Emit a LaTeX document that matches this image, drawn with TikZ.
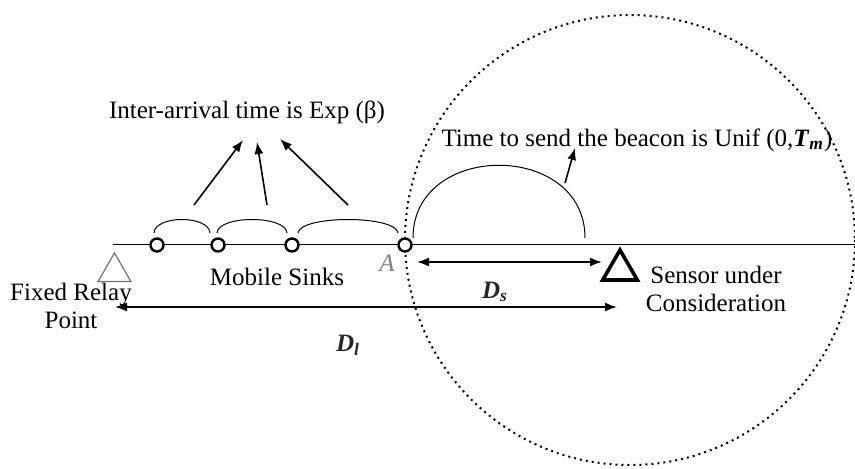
\documentclass[tikz,border=0pt]{standalone}
\usepackage{fontspec}
\setmainfont{Liberation Serif}
\usetikzlibrary{shapes.geometric,arrows.meta}
\tikzset{
  sink/.style={circle,draw,line width=1.2pt,fill=white,minimum size=6.5pt,inner sep=0pt},
  tri/.style={regular polygon,regular polygon sides=3,draw,inner sep=0pt},
  gap/.style={line width=0.5pt},
  lab/.style={font=\fontsize{12.5}{14}\selectfont,inner sep=1pt},
  tip/.style={Latex[length=6pt,width=4.5pt]},
  ptr/.style={line width=0.8pt,-{Latex[length=6pt,width=4.5pt]}},
  dim/.style={line width=0.8pt,{Latex[length=6pt,width=4.5pt]}-{Latex[length=6pt,width=4.5pt]}},
}
\newcommand{\bmath}[2]{\textbf{\textit{#1}}\textsubscript{\textbf{\textit{#2}}}}
\begin{document}
\begin{tikzpicture}[x=0.5pt,y=-0.5pt]
  \useasboundingbox (0,0) rectangle (855,468);

  % range of the sensor
  \draw[dotted,line width=1pt] (630,240) circle (225);
  \draw[line width=0.5pt] (113,244) -- (855,244);

  % relay and sensor
  \node[tri,draw=black!55,line width=0.6pt,minimum size=19pt] (relay) at (114.5,272) {};
  \node[tri,line width=1.8pt,minimum size=20pt] (sensor) at (620,270) {};

  % gaps between the sinks
  \draw[gap] (154,233) .. controls (155,215) and (209,215) .. (210,233);
  \draw[gap] (217,233) .. controls (218,215) and (286,215) .. (287,233);
  \draw[gap] (298,233) .. controls (300,215) and (396,215) .. (398,233);
  \draw[gap] (413,238) .. controls (413,141) and (585,141) .. (585,238);

  \foreach \x/\n in {157/s1,218/s2,292/s3,405/s4}
    \node[sink] (\n) at (\x,245) {};
  \node[lab,text=black!50] (labA) at (387,263) {\textit{A}};

  % texts
  \node[lab] (interarr) at (247,112) {Inter-arrival time is Exp (β)};
  \node[lab] (beacon) at (637,140) {Time to send the beacon is Unif (0,\bmath{T}{m})};
  \node[lab] (sinks) at (277,277) {Mobile Sinks};
  \node[lab,align=center] (relaytxt) at (71,306) {Fixed Relay\\Point};
  \node[lab,align=center] (sensortxt) at (716,289) {Sensor under\\Consideration};
  \node[lab,text=black!85] (ds) at (495,292) {\bmath{D}{s}};
  \node[lab,text=black!85] (dl) at (348,345) {\bmath{D}{l}};

  % arrows
  \foreach \n/\fx/\tx/\ty in {a/194/243/140,b/267/257/142,c/348/280/139} {
    \coordinate (from\n) at (\fx,205);
    \coordinate (to\n) at (\tx,\ty);
    \draw[ptr] (from\n) -- (to\n);
  }
  \coordinate (fromd) at (565,183);
  \coordinate (tod) at (575,148);
  \draw[ptr] (fromd) -- (tod);

  \coordinate (dsL) at (417,262);
  \coordinate (dsR) at (602,262);
  \draw[dim] (dsL) -- (dsR);
  \coordinate (dlL) at (115,307);
  \coordinate (dlR) at (617,307);
  \draw[dim] (dlL) -- (dlR);
\end{tikzpicture}
\end{document}
